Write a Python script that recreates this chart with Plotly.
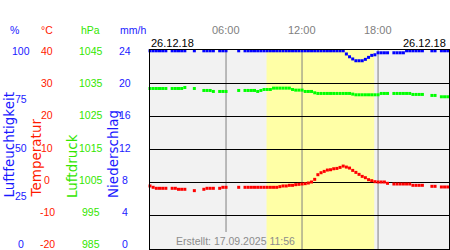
import plotly.graph_objects as go

# ---- data (15-minute slots from 00:00 to 23:30, 26.12.18) ----
slot_hours = [i * 0.25 for i in range(95)]

temperature = [
    -1.0, -1.4, -1.7, -1.7,
    -1.7, -1.7, None, -1.7,
    -1.7, -2.0, -2.0, -2.0,
    None, None, -2.4, None,
    None, -2.0, -1.7, -1.7,
    -1.7, None, -1.7, -1.4,
    -1.4, None, None, None,
    -1.4, None, -1.4, -1.4,
    -1.4, -1.4, -1.4, -1.4,
    -1.4, -1.4, -1.4, -1.4,
    -1.4, -1.2, -1.0, -1.0,
    -0.8, -0.8, -0.6, -0.5,
    -0.4, -0.3, -0.1, 0.2,
    1.0, 2.4, 3.0, 3.4,
    3.8, 3.9, 4.2, 4.3,
    4.6, 5.0, 4.7, 4.4,
    3.7, 3.1, 2.5, 1.9,
    1.5, 0.9, 0.6, 0.3,
    0.2, 0.2, 0.2, -0.2,
    None, -0.4, -0.4, -0.4,
    -0.4, -0.4, -0.4, -0.8,
    -0.8, -0.8, -0.8, None,
    None, -1.1, -1.1, None,
    -1.3, -1.3, -1.3,
]

pressure = [
    1033.4, 1033.4, 1033.4, 1033.4,
    1033.4, 1033.4, None, 1033.4,
    1033.4, 1033.4, 1033.4, 1033.7,
    None, None, 1033.4, None,
    None, 1032.8, 1032.8, 1032.8,
    1032.5, None, 1032.5, 1032.5,
    1032.5, None, None, None,
    1032.8, None, 1032.8, 1032.8,
    1032.8, 1032.8, 1032.5, 1032.8,
    1033.1, 1033.1, 1033.1, 1033.5,
    1033.5, 1033.5, 1033.5, 1033.5,
    1033.5, 1033.1, 1032.9, 1032.9,
    1032.9, 1032.5, 1032.5, 1032.5,
    1032.1, 1031.9, 1031.9, 1031.9,
    1031.9, 1031.9, 1031.9, 1031.9,
    1031.9, 1031.9, 1031.9, 1031.9,
    1031.7, 1031.5, 1031.5, 1031.5,
    1031.5, 1031.5, 1031.5, 1031.5,
    1031.5, 1031.9, 1031.9, 1031.9,
    None, 1031.9, 1031.9, 1031.9,
    1031.9, 1031.9, 1031.9, 1031.6,
    1031.6, 1031.6, 1031.6, None,
    None, 1031.3, 1031.3, None,
    1030.9, 1030.9, 1030.9,
]

humidity = [
    99.6, 99.6, 99.6, 99.6,
    99.6, 99.6, None, 99.6,
    99.6, 99.6, 99.6, 99.6,
    None, None, 99.6, None,
    None, 99.6, 99.6, 99.6,
    99.6, None, 99.6, 99.6,
    99.6, None, None, None,
    99.6, None, 99.6, 99.6,
    99.6, 99.6, 99.6, 99.6,
    99.6, 99.6, 99.6, 99.6,
    99.6, 99.6, 99.6, 99.6,
    99.6, 99.6, 99.6, 99.6,
    99.6, 99.6, 99.6, 99.6,
    99.6, 99.6, 99.6, 99.6,
    99.6, 99.6, 99.6, 99.6,
    99.6, 99.6, 98.0, 96.6,
    95.5, 94.6, 94.6, 94.6,
    95.3, 96.3, 97.3, 97.6,
    98.6, 98.6, 98.6, 98.6,
    None, 98.6, 98.6, 98.6,
    98.6, 99.6, 99.6, 99.6,
    99.6, 99.6, 99.6, None,
    None, 99.6, 99.6, None,
    99.6, 99.6, 99.6,
]

# axis ticks
humidity_ticks = [0, 25, 50, 75, 100]
temperature_ticks = [-20, -10, 0, 10, 20, 30, 40]
pressure_ticks = [985, 995, 1005, 1015, 1025, 1035, 1045]
precip_ticks = [0, 4, 8, 12, 16, 20, 24]
time_ticks = [6, 12, 18]
time_labels = ["06:00", "12:00", "18:00"]
daylight = [9.2, 17.7]
date_label = "26.12.18"
created_label = "Erstellt: 17.09.2025 11:56"

# ---- styling ----
C_HUM = "#0000ff"
C_TEMP = "#ff0000"
C_PRES = "#00ff00"
C_HUM_TXT = "#1a1aff"
C_TEMP_TXT = "#ff1a00"
C_PRES_TXT = "#33e600"
C_PREC_TXT = "#1a1aff"
TICK_FONT = "Liberation Sans, Arial, sans-serif"
TITLE_FONT = "DejaVu Sans, sans-serif"

W, H = 450, 250
ML, MR, MT, MB = 150, 1, 50, 1
PW, PH = W - ML - MR, H - MT - MB


def px_x(px):
    return (px - ML) / PW


def px_y(py):
    return (H - MB - py) / PH


fig = go.Figure()

fig.add_trace(go.Scatter(x=slot_hours, y=humidity, mode="markers", yaxis="y2",
                         marker=dict(symbol="square", size=3, color=C_HUM, line=dict(width=0)),
                         cliponaxis=False, hoverinfo="skip"))
fig.add_trace(go.Scatter(x=slot_hours, y=pressure, mode="markers", yaxis="y3",
                         marker=dict(symbol="square", size=3, color=C_PRES, line=dict(width=0)),
                         cliponaxis=False, hoverinfo="skip"))
fig.add_trace(go.Scatter(x=slot_hours, y=temperature, mode="markers", yaxis="y",
                         marker=dict(symbol="square", size=3, color=C_TEMP, line=dict(width=0)),
                         cliponaxis=False, hoverinfo="skip"))

shapes = [dict(type="rect", xref="x", yref="paper", x0=daylight[0], x1=daylight[1], y0=0, y1=1,
               fillcolor="#ffffa6", line=dict(width=0), layer="below")]
for t in time_ticks:
    y0 = px_y(232) if t < daylight[0] else 0
    shapes.append(dict(type="line", xref="x", yref="paper", x0=t, x1=t, y0=y0, y1=1,
                       line=dict(color="#808080", width=1), layer="below"))

annotations = []


def tick_labels(ticks, yref, lo, hi, cx, color):
    for v in ticks:
        f = (v - lo) / (hi - lo)
        annotations.append(dict(text=str(v), xref="paper", yref=yref, x=px_x(cx), y=v,
                                xanchor="center", yanchor="middle", yshift=5 - 6 * f,
                                showarrow=False, font=dict(family=TICK_FONT, size=10.5, color=color)))


tick_labels(humidity_ticks, "y2", 0, 100, 20.5, C_HUM_TXT)
tick_labels(temperature_ticks, "y", -20, 40, 47, C_TEMP_TXT)
tick_labels(pressure_ticks, "y3", 985, 1045, 91, C_PRES_TXT)
tick_labels(precip_ticks, "y4", 0, 24, 124.5, C_PREC_TXT)

for txt, cx, col in [("%", 14, C_HUM_TXT), ("°C", 47, C_TEMP_TXT), ("hPa", 90.5, C_PRES_TXT),
                     ("mm/h", 132.5, C_PREC_TXT)]:
    annotations.append(dict(text=txt, xref="paper", yref="paper", x=px_x(cx), y=px_y(30.5),
                            xanchor="center", yanchor="middle", showarrow=False,
                            font=dict(family=TICK_FONT, size=10.5, color=col)))

for txt, cx, col in [("Luftfeuchtigkeit", 8.5, C_HUM_TXT), ("Temperatur", 35, C_TEMP_TXT),
                     ("Luftdruck", 72, C_PRES_TXT), ("Niederschlag", 113, C_PREC_TXT)]:
    annotations.append(dict(text=txt, xref="paper", yref="paper", x=px_x(cx), y=px_y(199),
                            xanchor="center", yanchor="bottom", textangle=-90, showarrow=False,
                            borderpad=0, font=dict(family=TITLE_FONT, size=13.5, color=col)))

for t, lab in zip(time_ticks, time_labels):
    annotations.append(dict(text=lab, xref="x", yref="paper", x=t, y=px_y(30),
                            xanchor="center", yanchor="middle", showarrow=False,
                            font=dict(family=TICK_FONT, size=11, color="#808080")))

annotations.append(dict(text=date_label, xref="paper", yref="paper", x=px_x(149), y=px_y(43),
                        xanchor="left", yanchor="middle", showarrow=False,
                        font=dict(family=TICK_FONT, size=11, color="black")))
annotations.append(dict(text=date_label, xref="paper", yref="paper", x=px_x(448), y=px_y(43),
                        xanchor="right", yanchor="middle", showarrow=False,
                        font=dict(family=TICK_FONT, size=11, color="black")))
annotations.append(dict(text=created_label, xref="paper", yref="paper", x=px_x(174), y=px_y(240.5),
                        xanchor="left", yanchor="middle", showarrow=False,
                        font=dict(family=TICK_FONT, size=10.5, color="#8c8c8c")))

fig.update_layout(
    width=W, height=H, margin=dict(l=ML, r=MR, t=MT, b=MB, autoexpand=False),
    paper_bgcolor="white", plot_bgcolor="#f2f2f2", showlegend=False,
    xaxis=dict(range=[0, 23.6], showgrid=False, zeroline=False, showticklabels=False, ticks="",
               showline=True, mirror=True, linecolor="black", linewidth=1, fixedrange=True),
    yaxis=dict(range=[-20, 40], tickvals=temperature_ticks, showgrid=True, gridcolor="black",
               gridwidth=1, zeroline=False, showticklabels=False, ticks="",
               showline=True, mirror=True, linecolor="black", linewidth=1, fixedrange=True),
    yaxis2=dict(range=[0, 100], overlaying="y", visible=False, fixedrange=True),
    yaxis3=dict(range=[985, 1045], overlaying="y", visible=False, fixedrange=True),
    yaxis4=dict(range=[0, 24], overlaying="y", visible=False, fixedrange=True),
    shapes=shapes, annotations=annotations,
)

fig.write_html("out.html", config={"displayModeBar": False})
